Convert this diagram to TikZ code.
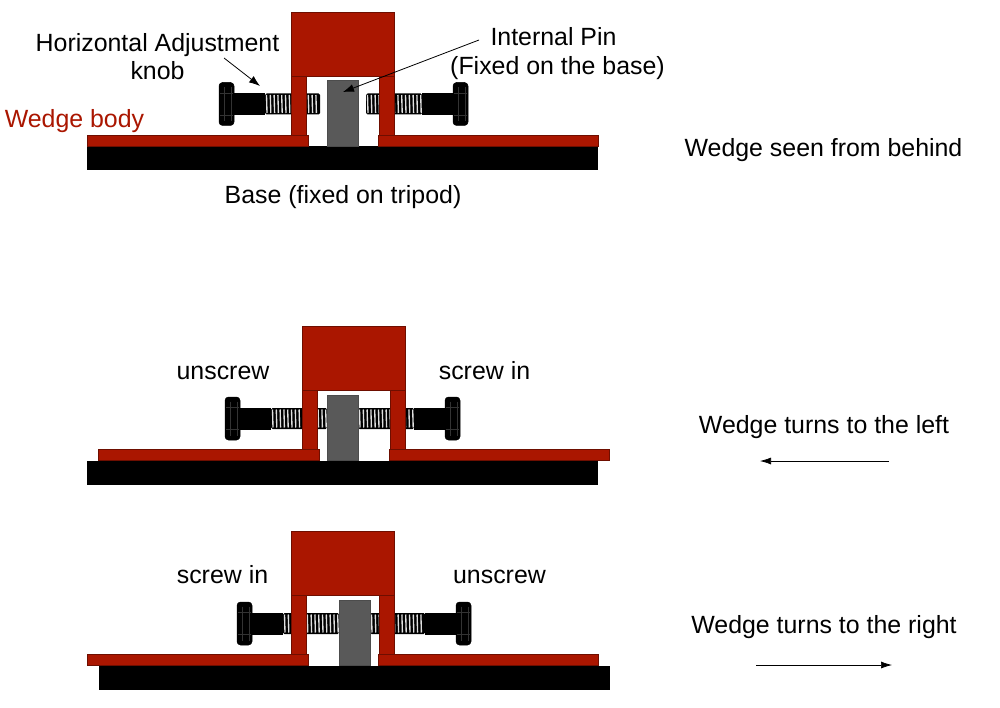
\documentclass[tikz,border=0pt]{standalone}
\usepackage{fontspec}
\setmainfont{Liberation Sans}
\usetikzlibrary{arrows.meta}
\definecolor{wedgered}{HTML}{AA1600}
\definecolor{pingray}{HTML}{595959}
\tikzset{
  redpart/.style={fill=wedgered,draw=wedgered!65!black,line width=0.4pt},
  pinpart/.style={fill=pingray,draw=black!70,line width=0.5pt},
  basepart/.style={fill=black,draw=none},
  shank/.style={fill=black,draw=none},
  threadstripe/.style={draw=white!88!black,line width=1.35pt},
  headpart/.style={fill=black,draw=black,line width=0.5pt,rounded corners=3.5pt},
  headline/.style={draw=white!20!black,line width=0.35pt},
  lbl/.style={anchor=base,inner sep=0pt,font=\fontsize{24.9pt}{28pt}\selectfont},
  leader/.style={draw=black,line width=0.8pt,-{Latex[length=11pt,width=8pt]}},
  dirarrow/.style={draw=black,line width=0.7pt,-{Latex[length=11pt,width=7pt]}}
}
% thread: from x1 to x2 about centre line y
\newcommand{\threadrun}[3]{%
  \fill[black,rounded corners=1.5pt] (#1,#3-10.5) rectangle (#2,#3+10.5);
  \pgfmathsetmacro{\thA}{#1+1.5}
  \pgfmathsetmacro{\thB}{#1+5.3}
  \pgfmathsetmacro{\thE}{#2-0.8}
  \foreach \tx in {\thA,\thB,...,\thE} {
    \draw[threadstripe] (\tx,#3-9) -- (\tx+0.5,#3+9);
  }}
% bolt head between x1 and x2
\newcommand{\bolthead}[3]{%
  \path[headpart] (#1,#3-21.5) rectangle (#2,#3+21.5);
  \draw[headline] (#1+1,#3-11) -- (#2-1,#3-11) (#1+1,#3+11) -- (#2-1,#3+11)
    (#1+5,#3-17) -- (#1+5,#3+17) (#2-3,#3-17) -- (#2-3,#3+17);
}
% #1 dy, #2 body dx, #3 base/pin dx, #4 left head x, #5 right head x, #6 left tip, #7 right tip
\newcommand{\assembly}[7]{%
  \begin{scope}[yshift=-#1pt]
    \path[basepart] (87+#3,146) rectangle (598+#3,170);
    \threadrun{#4+46}{#6}{104}
    \threadrun{#7}{#5-46}{104}
    \path[shank] (#4+15,93) rectangle (#4+46,115.5);
    \path[shank] (#5-46,93) rectangle (#5-15,115.5);
    \bolthead{#4}{#4+15}{104}
    \bolthead{#5-15}{#5}{104}
    \path[pinpart] (327+#3,80.5) rectangle (358+#3,146);
    \path[redpart] (291+#2,76) rectangle (306+#2,135);
    \path[redpart] (379+#2,76) rectangle (394+#2,135);
    \path[redpart] (291+#2,12) rectangle (394+#2,76);
    \path[redpart] (87+#2,135) rectangle (308+#2,146);
    \path[redpart] (378+#2,135) rectangle (598+#2,146);
  \end{scope}}
\begin{document}
\begin{tikzpicture}[x=1pt,y=-1pt]
\useasboundingbox (0,0) rectangle (1000,708);
\fill[white] (0,0) rectangle (1000,708);
\assembly{0}{0}{0}{219}{468}{320}{366}
\assembly{314.5}{11}{0}{225}{460}{327}{358}
\assembly{519.5}{0}{12}{237}{471}{339}{370}
% labels
\node[lbl] (hadj) at (157.5,52) {Horizontal Adjustment};
\node[lbl] (knob) at (157.5,80) {knob};
\node[lbl,text=wedgered] (body) at (74.5,128) {Wedge body};
\node[lbl] (ipin) at (553.5,46) {Internal Pin};
\node[lbl] (fixed) at (557.5,75) {(Fixed on the base)};
\node[lbl] (basel) at (343,204) {Base (fixed on tripod)};
\node[lbl] (behind) at (823.5,157) {Wedge seen from behind};
\node[lbl] (un1) at (223,379) {unscrew};
\node[lbl] (in1) at (484.5,379) {screw in};
\node[lbl] (tleft) at (824,433) {Wedge turns to the left};
\node[lbl] (in2) at (222.5,583) {screw in};
\node[lbl] (un2) at (499.5,583) {unscrew};
\node[lbl] (tright) at (824,633) {Wedge turns to the right};
% connectors
\coordinate (knobfrom) at (224,58);
\coordinate (knobto) at (260,86);
\coordinate (pinfrom) at (479,40);
\coordinate (pinto) at (343,92);
\coordinate (lfrom) at (889,461);
\coordinate (lto) at (760,461);
\coordinate (rfrom) at (756,665);
\coordinate (rto) at (892,665);
\draw[leader] (knobfrom) -- (knobto);
\draw[leader] (pinfrom) -- (pinto);
\draw[dirarrow] (lfrom) -- (lto);
\draw[dirarrow] (rfrom) -- (rto);
\end{tikzpicture}
\end{document}
